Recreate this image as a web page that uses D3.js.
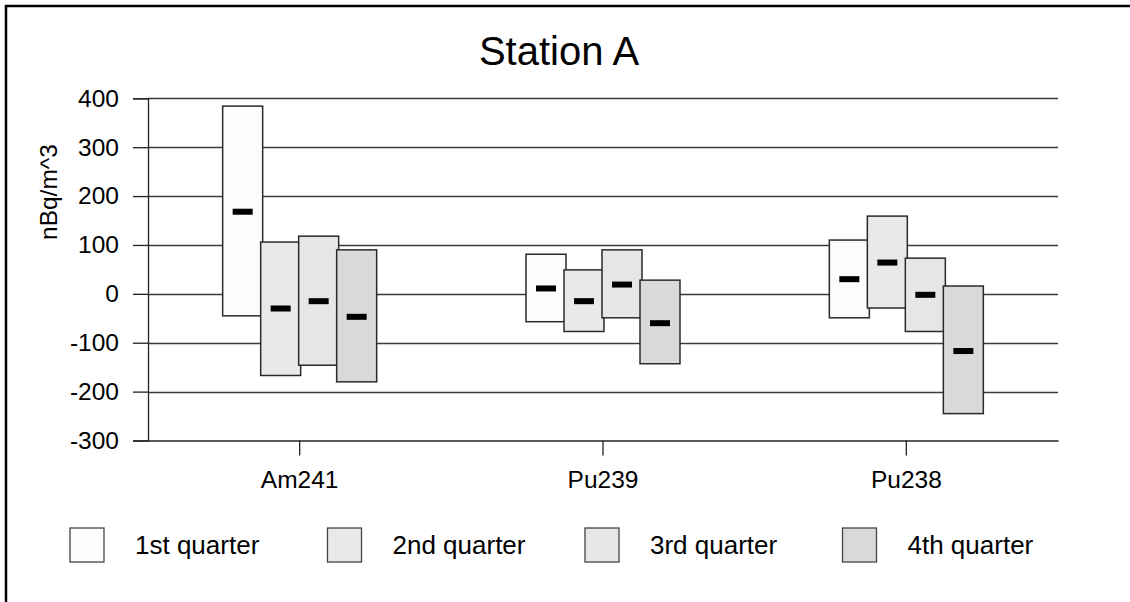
<!DOCTYPE html>
<html>
<head>
<meta charset="utf-8">
<script src="https://cdn.jsdelivr.net/npm/d3@7"></script>
<style>
  html, body { margin: 0; padding: 0; background: #fff; }
  svg { display: block; font-family: "Liberation Sans", Arial, sans-serif; }
</style>
</head>
<body>
<svg id="chart" width="1130" height="602"></svg>
<script>
// ---- data ----
const categories = ["Am241", "Pu239", "Pu238"];
const quarters = ["1st quarter", "2nd quarter", "3rd quarter", "4th quarter"];
const highValues = [
  [384, 106, 118, 90],
  [81, 49, 90, 28],
  [110, 159, 73, 16]
];
const lowValues = [
  [-45, -167, -146, -180],
  [-57, -77, -49, -143],
  [-49, -29, -77, -245]
];
const meanValues = [
  [168, -30, -15, -47],
  [11, -15, 19, -60],
  [30, 64, -2, -117]
];
const yTicks = [-300, -200, -100, 0, 100, 200, 300, 400];
const quarterFills = ["#fdfcfa", "#e9e9e9", "#e6e6e6", "#d9d9d9"];

// ---- layout ----
const svg = d3.select("#chart");
const plot = { left: 148, right: 1058, top: 98.3, bottom: 440.5 };

const x = d3.scaleBand().domain(categories).range([plot.left, plot.right]).paddingInner(0).paddingOuter(0);
const q = d3.scalePoint().domain(quarters).range([-57, 57]);
const y = d3.scaleLinear().domain([-300, 400]).range([plot.bottom, plot.top]);
const barW = 40;

// outer border
svg.append("rect").attr("x", 6).attr("y", 6).attr("width", 1140).attr("height", 620)
  .attr("fill", "none").attr("stroke", "#000").attr("stroke-width", 2.5);

// title
svg.append("text").attr("x", 559).attr("y", 65).attr("text-anchor", "middle")
  .attr("font-size", 40).attr("fill", "#000").text("Station A");

// gridlines
svg.append("g").selectAll("line").data(yTicks.filter(d => d !== -300)).join("line")
  .attr("x1", plot.left).attr("x2", plot.right)
  .attr("y1", d => Math.round(y(d)) + 0.5).attr("y2", d => Math.round(y(d)) + 0.5)
  .attr("stroke", "#3a3a3a").attr("stroke-width", 1.3);

// y axis
const yAxis = svg.append("g").attr("transform", `translate(${plot.left},0)`)
  .call(d3.axisLeft(y).tickValues(yTicks).tickSize(15).tickPadding(14).tickFormat(d => String(d)));
yAxis.select(".domain").attr("stroke", "#222").attr("stroke-width", 1.3);
yAxis.selectAll(".tick line").attr("stroke", "#222").attr("stroke-width", 1.3);
yAxis.selectAll(".tick text").attr("font-size", 24.5).attr("fill", "#000")
  .attr("font-family", "Liberation Sans, Arial, sans-serif");

// x axis
const xAxis = svg.append("g").attr("transform", `translate(0,${plot.bottom})`)
  .call(d3.axisBottom(x).tickSize(15).tickPadding(15).tickSizeOuter(0));
xAxis.select(".domain").attr("stroke", "#222").attr("stroke-width", 1.3);
xAxis.selectAll(".tick line").attr("stroke", "#222").attr("stroke-width", 1.3);
xAxis.selectAll(".tick text").attr("font-size", 24.5).attr("fill", "#000")
  .attr("font-family", "Liberation Sans, Arial, sans-serif");

// y label
svg.append("text").attr("transform", "translate(57,192) rotate(-90)")
  .attr("text-anchor", "middle").attr("font-size", 24.5).attr("fill", "#000").text("nBq/m^3");

// bars
const rows = [];
categories.forEach((c, ci) => {
  quarters.forEach((qq, qi) => {
    rows.push({ cat: c, q: qq, qi: qi, hi: highValues[ci][qi], lo: lowValues[ci][qi], mean: meanValues[ci][qi] });
  });
});
// draw quarter by quarter so later quarters overlap earlier ones
rows.sort((a, b) => a.qi - b.qi);
const bars = svg.append("g");
const center = d => x(d.cat) + x.bandwidth() / 2 + q(d.q);
bars.selectAll("g.bar").data(rows).join("g").attr("class", "bar").each(function(d) {
  const g = d3.select(this);
  g.append("rect")
    .attr("x", center(d) - barW / 2).attr("y", y(d.hi))
    .attr("width", barW).attr("height", y(d.lo) - y(d.hi))
    .attr("fill", quarterFills[d.qi]).attr("stroke", "#2a2a2a").attr("stroke-width", 1.5);
  g.append("rect")
    .attr("x", center(d) - 10).attr("y", y(d.mean) - 3)
    .attr("width", 20).attr("height", 6).attr("fill", "#000");
});

// legend
const legend = svg.append("g");
const lg = legend.selectAll("g").data(quarters).join("g")
  .attr("transform", (d, i) => `translate(${70 + i * 257.5},528)`);
lg.append("rect").attr("width", 34).attr("height", 34)
  .attr("fill", (d, i) => quarterFills[i]).attr("stroke", "#444").attr("stroke-width", 1.3);
lg.append("text").attr("x", 65).attr("y", 26).attr("font-size", 26).attr("fill", "#000").text(d => d);
</script>
</body>
</html>
